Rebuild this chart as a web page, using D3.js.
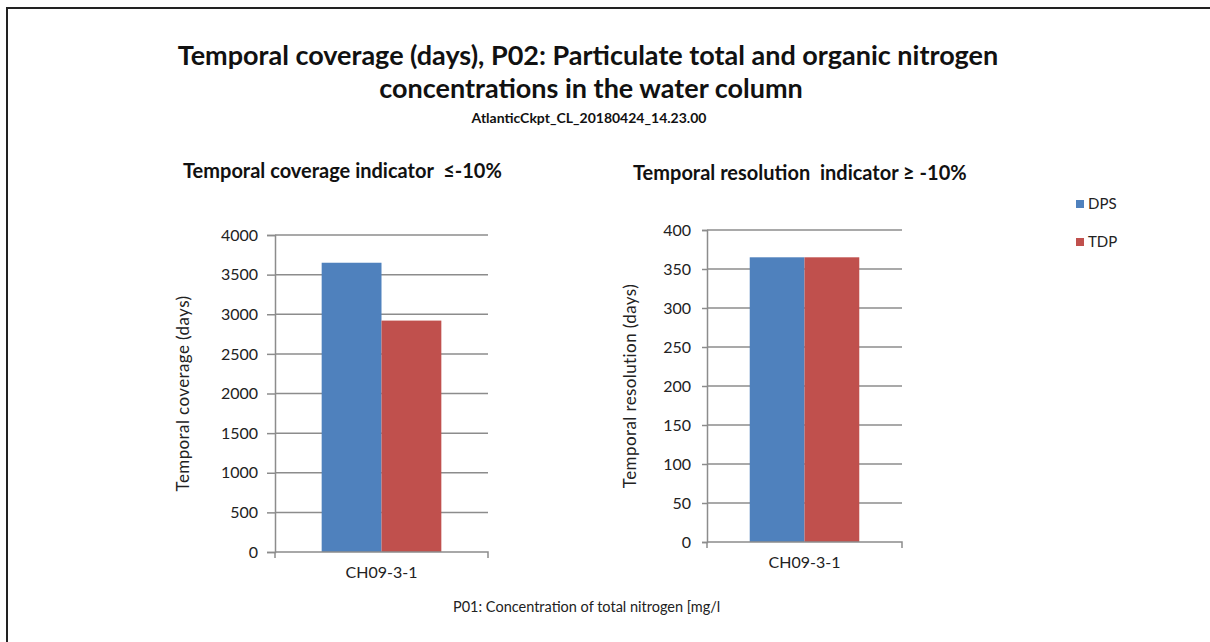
<!DOCTYPE html>
<html>
<head>
<meta charset="utf-8">
<script src="https://cdn.jsdelivr.net/npm/d3@7"></script>
<style>
  html, body { margin: 0; padding: 0; background: #fff; }
  svg { display: block; }
</style>
</head>
<body>
<script>
// data
const stations = ["CH09-3-1"];
const series = ["DPS", "TDP"];
const coverage = [3650, 2920];     // days, DPS / TDP
const resolution = [365, 365];     // days, DPS / TDP
const coverageTicks = [0, 500, 1000, 1500, 2000, 2500, 3000, 3500, 4000];
const resolutionTicks = [0, 50, 100, 150, 200, 250, 300, 350, 400];

const colors = d3.scaleOrdinal().domain(series).range(["#4f81bd", "#c0504d"]);
const font = "Lato, 'Open Sans', sans-serif";

const svg = d3.select("body").append("svg")
  .attr("width", 1210)
  .attr("height", 642);

// frame
svg.append("path")
  .attr("d", "M7,650 L7,8 L1220,8")
  .attr("fill", "none")
  .attr("stroke", "#222")
  .attr("stroke-width", 2);

// titles
svg.append("text")
  .attr("x", 588).attr("y", 65)
  .attr("text-anchor", "middle")
  .style("font", "bold 27px " + font)
  .attr("fill", "#111")
  .text("Temporal coverage (days), P02: Particulate total and organic nitrogen");
svg.append("text")
  .attr("x", 591).attr("y", 98)
  .attr("text-anchor", "middle")
  .style("font", "bold 27px " + font)
  .attr("fill", "#111")
  .text("concentrations in the water column");
svg.append("text")
  .attr("x", 589).attr("y", 123)
  .attr("text-anchor", "middle")
  .style("font", "bold 14px " + font)
  .attr("fill", "#111")
  .text("AtlanticCkpt_CL_20180424_14.23.00");

function drawPanel(opts) {
  const g = svg.append("g");

  const x = d3.scaleBand().domain(stations).range([opts.left, opts.right]).paddingInner(0).paddingOuter(0.39);
  const xs = d3.scaleBand().domain(series).range([0, x.bandwidth()]);
  const y = d3.scaleLinear().domain([0, d3.max(opts.ticks)]).range([opts.bottom, opts.top]);

  // gridlines
  g.append("g")
    .selectAll("line")
    .data(opts.ticks.slice(1))
    .join("line")
    .attr("x1", opts.left).attr("x2", opts.right)
    .attr("y1", d => y(d)).attr("y2", d => y(d))
    .attr("stroke", "#8c8c8c")
    .attr("stroke-width", 1.5);

  // y axis
  const yAxis = g.append("g")
    .attr("transform", "translate(" + opts.left + ",0)")
    .call(d3.axisLeft(y).tickValues(opts.ticks).tickFormat(d3.format("d")).tickSize(opts.tick).tickPadding(opts.pad));
  yAxis.select(".domain").attr("stroke", "#8c8c8c").attr("stroke-width", 1.5);
  yAxis.selectAll(".tick line").attr("stroke", "#8c8c8c").attr("stroke-width", 1.5);
  yAxis.selectAll("text").style("font", "16px " + font).attr("fill", "#222");

  // bars
  g.append("g")
    .selectAll("rect")
    .data(series.map((s, i) => ({ s: s, v: opts.values[i] })))
    .join("rect")
    .attr("x", d => x(stations[0]) + xs(d.s))
    .attr("width", xs.bandwidth())
    .attr("y", d => y(d.v))
    .attr("height", d => y(0) - y(d.v))
    .attr("fill", d => colors(d.s));

  // x axis
  const xAxis = g.append("g")
    .attr("transform", "translate(0," + opts.bottom + ")")
    .call(d3.axisBottom(x).tickSize(0).tickPadding(15));
  xAxis.select(".domain")
    .attr("d", "M" + opts.left + ",0H" + opts.right + "V6")
    .attr("stroke", "#8c8c8c").attr("stroke-width", 1.5);
  xAxis.selectAll("text").style("font", "16px " + font).attr("fill", "#222");
  xAxis.append("line")
    .attr("x1", opts.left).attr("x2", opts.left)
    .attr("y1", 0).attr("y2", 6)
    .attr("stroke", "#8c8c8c").attr("stroke-width", 1.5);

  // y label
  g.append("text")
    .attr("transform", "translate(" + opts.labelX + "," + ((opts.top + opts.bottom) / 2) + ") rotate(-90)")
    .attr("text-anchor", "middle")
    .style("font", "17px " + font)
    .style("letter-spacing", "0.4px")
    .attr("fill", "#222")
    .text(opts.label);

  // panel title
  g.append("text")
    .attr("x", opts.titleX).attr("y", opts.titleY)
    .style("font", "bold 20px " + font)
    .style("white-space", "pre")
    .attr("fill", "#111")
    .text(opts.title);
}

drawPanel({
  left: 275, right: 488, top: 235, bottom: 552, tick: 8, pad: 9,
  ticks: coverageTicks, values: coverage,
  label: "Temporal coverage (days)", labelX: 189,
  title: "Temporal coverage indicator  \u2264-10%", titleX: 183, titleY: 178
});

drawPanel({
  left: 707, right: 902, top: 230, bottom: 542, tick: 5, pad: 11,
  ticks: resolutionTicks, values: resolution,
  label: "Temporal resolution (days)", labelX: 636,
  title: "Temporal resolution  indicator \u2265 -10%", titleX: 633, titleY: 180
});

// legend
const legend = svg.append("g")
  .selectAll("g")
  .data(series)
  .join("g")
  .attr("transform", (d, i) => "translate(1076," + (200 + i * 38) + ")");
legend.append("rect")
  .attr("width", 8).attr("height", 8)
  .attr("fill", d => colors(d));
legend.append("text")
  .attr("x", 12).attr("y", 9)
  .style("font", "15px " + font)
  .attr("fill", "#222")
  .text(d => d);

// footnote
svg.append("text")
  .attr("x", 453).attr("y", 612)
  .style("font", "14.5px " + font)
  .attr("fill", "#222")
  .text("P01: Concentration of total nitrogen [mg/l");
</script>
</body>
</html>
